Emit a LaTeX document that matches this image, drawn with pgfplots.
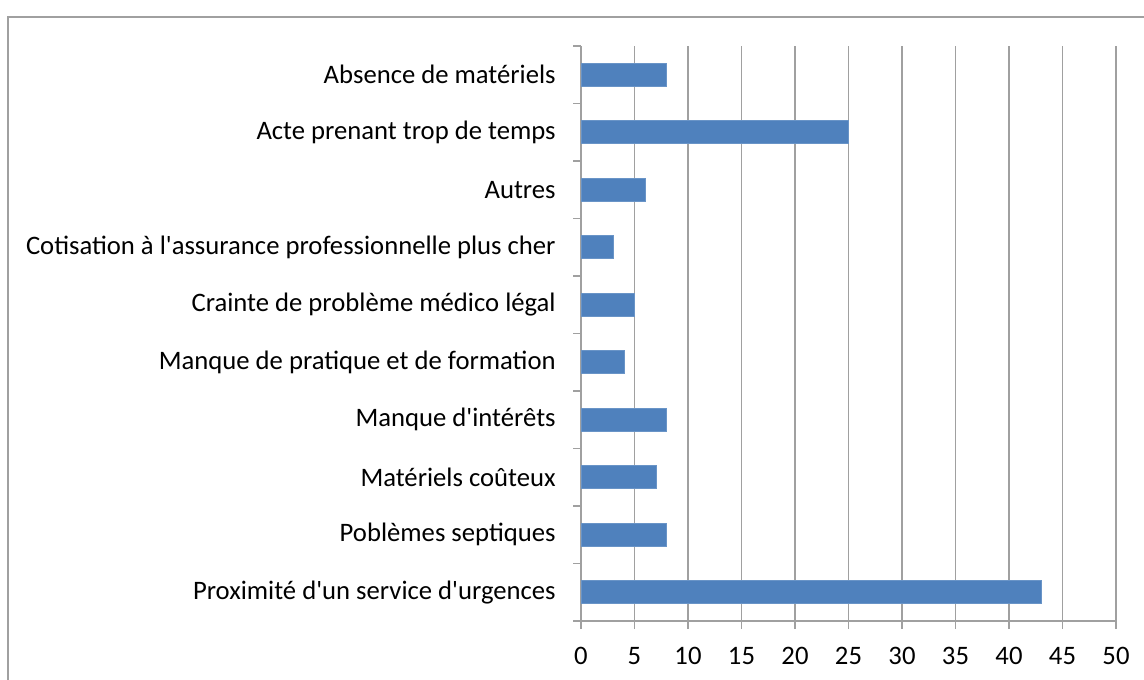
\documentclass[border=0pt]{standalone}
\usepackage{pgfplots}
\pgfplotsset{compat=1.18}
\usepackage{fontspec}
\setmainfont{Carlito}
\definecolor{barblue}{HTML}{4F81BD}
\definecolor{gridgray}{HTML}{A0A0A0}
\begin{document}
\begin{tikzpicture}[x=0.75pt,y=0.75pt]
\useasboundingbox (0,0) rectangle (1144,679);
\draw[gridgray, line width=1.5pt] (7.5,-20) -- (7.5,661.5) -- (1170,661.5);
\begin{axis}[
  at={(435.75pt,43.5pt)}, anchor=south west, scale only axis,
  width=401.25pt, height=431.25pt,
  xmin=0, xmax=50, ymin=-0.5, ymax=9.5,
  xbar, bar width=17.25pt,
  axis x line=bottom, axis y line=left,
  axis line style={-, gridgray, line width=0.9pt},
  xtick={0,5,...,50},
  xmajorgrids, major grid style={gridgray, line width=0.9pt},
  ytick={0,...,9},
  yticklabels={Proximité d\textquotesingle un service d\textquotesingle urgences,
    Poblèmes septiques, Matériels coûteux, Manque d\textquotesingle intérêts,
    Manque de pratique et de formation, Crainte de problème médico légal,
    Cotisation à l\textquotesingle assurance professionnelle plus cher,
    Autres, Acte prenant trop de temps, Absence de matériels},
  minor ytick={-0.5,0.5,...,9.5},
  tick align=outside,
  major tick length=6pt, minor tick length=6pt,
  every major y tick/.append style={draw=none},
  every minor y tick/.append style={gridgray, line width=0.9pt},
  every major x tick/.append style={gridgray, line width=0.9pt},
  /pgf/number format/assume math mode=true,
  ticklabel style={font=\fontsize{20}{24}\selectfont, text=black},
  xticklabel style={yshift=-10pt, text height=13pt, text depth=0pt},
  yticklabel style={xshift=-9.5pt},
]
\addplot[fill=barblue, draw=barblue!85!white] coordinates {
  (43,0) (8,1) (7,2) (8,3) (4,4) (5,5) (3,6) (6,7) (25,8) (8,9)
};
\end{axis}
\end{tikzpicture}
\end{document}
